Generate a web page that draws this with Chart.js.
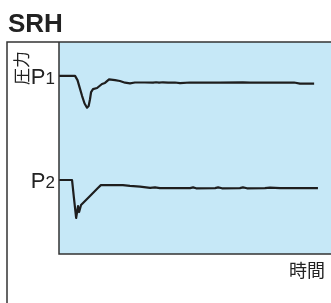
<!DOCTYPE html>
<html>
<head>
<meta charset="utf-8">
<script src="https://cdn.jsdelivr.net/npm/chart.js@4/dist/chart.umd.min.js"></script>
<style>
  body { margin: 0; background: #fff; }
  #wrap { width: 331px; height: 303px; position: relative; }
</style>
</head>
<body>
<div id="wrap"><canvas id="myChart"></canvas></div>
<script>
// time (0..100) and pressure (0..100)
const p1Time = [0, 5.9, 6.8, 7.6, 8.5, 9.4, 10.3, 10.9, 11.4, 11.8, 12.5, 14.0, 15.8, 16.9, 18.4, 20.6, 22.4, 24.3, 26.1, 27.9,
  31.6, 34.6, 35.7, 36.8, 38.2, 40.1, 42.6, 44.5, 48.2, 50.7, 59.2, 67.6, 70.2, 84.9, 86.4, 88.6, 93.8];
const p1Value = [84.0, 84.0, 82.0, 78.5, 74.5, 71.0, 69.0, 69.8, 73.0, 76.4, 77.8, 78.3, 80.2, 80.7, 82.4, 82.0, 81.6, 80.8, 80.5, 80.9,
  80.9, 80.8, 81.0, 80.8, 81.0, 80.8, 80.9, 80.6, 80.9, 80.8, 80.8, 81.0, 80.8, 80.8, 80.9, 80.4, 80.4];

const p2Time = [0, 4.8, 5.5, 6.3, 7.0, 7.4, 8.1, 11.4, 14.3, 15.4, 23.5, 26.1, 29.8, 33.5, 35.3, 37.1,
  48.2, 49.3, 50.4, 57.4, 58.5, 59.9, 66.5, 67.6, 69.1, 75.7, 77.6, 81.3, 95.2];
const p2Value = [34.9, 34.9, 26.4, 17.0, 22.6, 19.8, 23.1, 27.4, 31.1, 32.5, 32.5, 32.1, 31.8, 31.2, 31.4, 31.1,
  31.1, 31.4, 31.0, 31.1, 31.4, 31.0, 31.1, 31.4, 31.0, 31.1, 31.3, 31.1, 31.1];

const levelLabels = ['P', 'P'];
const levelSubs = ['1', '2'];
const titleText = 'SRH';
const yTitle = '圧力';
const xTitle = '時間';

const toPoints = (xs, ys) => xs.map((x, i) => ({ x: x, y: ys[i] }));

// frame, background and labels
const framePlugin = {
  id: 'frame',
  beforeDatasetsDraw(chart) {
    const { ctx, chartArea: a } = chart;
    ctx.save();
    ctx.fillStyle = 'rgb(198,232,247)';
    ctx.fillRect(a.left, a.top, a.right - a.left, a.bottom - a.top);
    ctx.restore();
  },
  afterDraw(chart) {
    const { ctx, chartArea: a, scales } = chart;
    ctx.save();
    ctx.strokeStyle = '#333';
    ctx.lineWidth = 1.5;
    ctx.beginPath();
    ctx.moveTo(7, 303);
    ctx.lineTo(7, a.top);
    ctx.lineTo(331, a.top);
    ctx.moveTo(a.left, a.top);
    ctx.lineTo(a.left, a.bottom);
    ctx.lineTo(331, a.bottom);
    ctx.stroke();

    ctx.fillStyle = '#222';
    ctx.font = 'bold 26px "Liberation Sans", Arial, sans-serif';
    ctx.textBaseline = 'alphabetic';
    ctx.fillText(titleText, 8, 32);

    // P1 / P2 level labels
    const levels = [p1Value[0], p2Value[0]];
    levels.forEach((v, i) => {
      const y = scales.y.getPixelForValue(v);
      ctx.font = '17px "Liberation Sans", Arial, sans-serif';
      const subW = ctx.measureText(levelSubs[i]).width;
      const right = a.left - 4;
      ctx.textAlign = 'right';
      ctx.fillText(levelSubs[i], right, y + 8);
      ctx.font = '22px "Liberation Sans", Arial, sans-serif';
      ctx.fillText(levelLabels[i], right - subW, y + 8);
    });

    // y title rotated
    ctx.save();
    ctx.translate(22, 68);
    ctx.rotate(-Math.PI / 2);
    ctx.textAlign = 'center';
    ctx.textBaseline = 'middle';
    ctx.font = '17px "Noto Sans CJK JP", sans-serif';
    ctx.fillText(yTitle, 0, 0);
    ctx.restore();

    ctx.textAlign = 'right';
    ctx.textBaseline = 'middle';
    ctx.font = '18px "Noto Sans CJK JP", sans-serif';
    ctx.fillText(xTitle, 325, 270);
    ctx.restore();
  }
};

const data = {
  datasets: [
    { data: toPoints(p1Time, p1Value) },
    { data: toPoints(p2Time, p2Value) }
  ]
};

const options = {
  responsive: true,
  maintainAspectRatio: false,
  animation: false,
  layout: { padding: { left: 59, top: 42, right: 0, bottom: 49 } },
  elements: {
    line: { borderColor: '#1e1e1e', borderWidth: 2.2, tension: 0, borderJoinStyle: 'round' },
    point: { radius: 0 }
  },
  scales: {
    x: { type: 'linear', min: 0, max: 100, display: false },
    y: { min: 0, max: 100, display: false }
  },
  plugins: {
    legend: { display: false },
    tooltip: { enabled: false }
  }
};

const myChart = new Chart(document.getElementById('myChart'), {
  type: 'line',
  data,
  options,
  plugins: [framePlugin]
});
</script>
</body>
</html>
